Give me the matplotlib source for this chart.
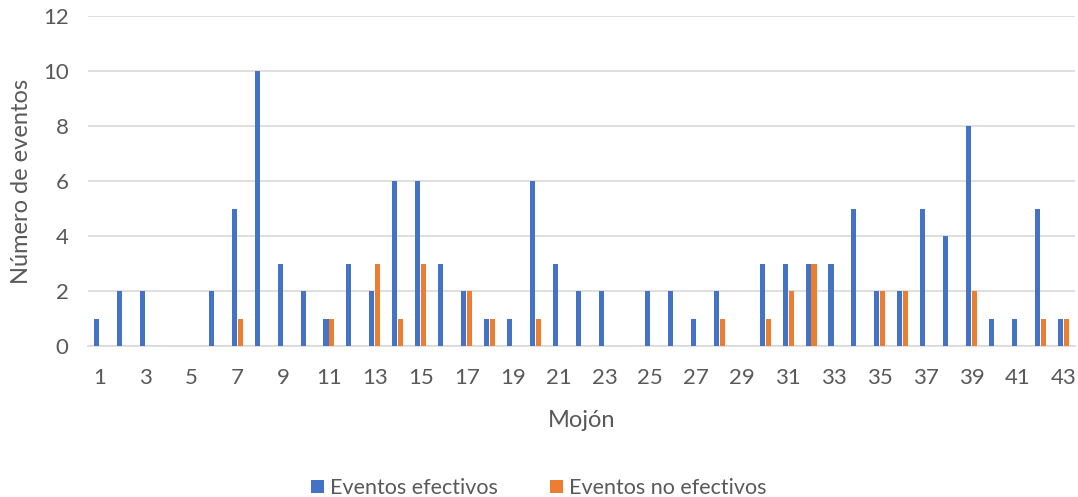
import numpy as np
import matplotlib.pyplot as plt

# events per milestone (mojón 1..43)
mojones = list(range(1, 44))
efectivos = [1, 2, 2, 0, 0, 2, 5, 10, 3, 2,
             1, 3, 2, 6, 6, 3, 2, 1, 1, 6,
             3, 2, 2, 0, 2, 2, 1, 2, 0, 3,
             3, 3, 3, 5, 2, 2, 5, 4, 8, 1,
             1, 5, 1]
no_efectivos = [0, 0, 0, 0, 0, 0, 1, 0, 0, 0,
                1, 0, 3, 1, 3, 0, 2, 1, 0, 1,
                0, 0, 0, 0, 0, 0, 0, 1, 0, 1,
                2, 3, 0, 0, 2, 2, 0, 0, 2, 0,
                0, 1, 1]
xtick_labels = [str(m) for m in mojones[::2]]

plt.rcParams['font.family'] = ['Lato', 'DejaVu Sans']
txt = '#595959'
grid = '#D9D9D9'

fig = plt.figure(figsize=(10.78, 4.97), dpi=100)
ax = fig.add_axes([0.0816, 0.3038, 0.9156, 0.664])

x = np.array(mojones)
w = 0.22
ax.bar(x - 0.13, efectivos, w, color='#4472C4', label='Eventos efectivos', zorder=3)
ax.bar(x + 0.13, no_efectivos, w, color='#ED7D31', label='Eventos no efectivos', zorder=3)

ax.set_xlim(0.5, 43.5)
ax.set_ylim(0, 12)
ax.set_yticks(range(0, 13, 2))
ax.set_xticks(mojones[::2])
ax.set_xticklabels(xtick_labels)
ax.tick_params(axis='both', length=0, labelsize=16, colors=txt)
ax.tick_params(axis='x', pad=16)
ax.tick_params(axis='y', pad=14)
ax.yaxis.grid(True, color=grid, linewidth=1.2, zorder=0)
for s in ['top', 'right', 'left']:
    ax.spines[s].set_visible(False)
ax.spines['bottom'].set_color(grid)
ax.spines['bottom'].set_linewidth(1.2)

ax.set_xlabel('Mojón', fontsize=17, color=txt, labelpad=16)
ax.set_ylabel('Número de eventos', fontsize=17, color=txt, labelpad=8)

fig.legend(loc='center', bbox_to_anchor=(0.5, 0.018), ncol=2, frameon=False,
           fontsize=15.5, labelcolor=txt, handlelength=0.6, handleheight=0.6,
           handletextpad=0.3, columnspacing=2.4)

fig.savefig('out.png', dpi=100)
